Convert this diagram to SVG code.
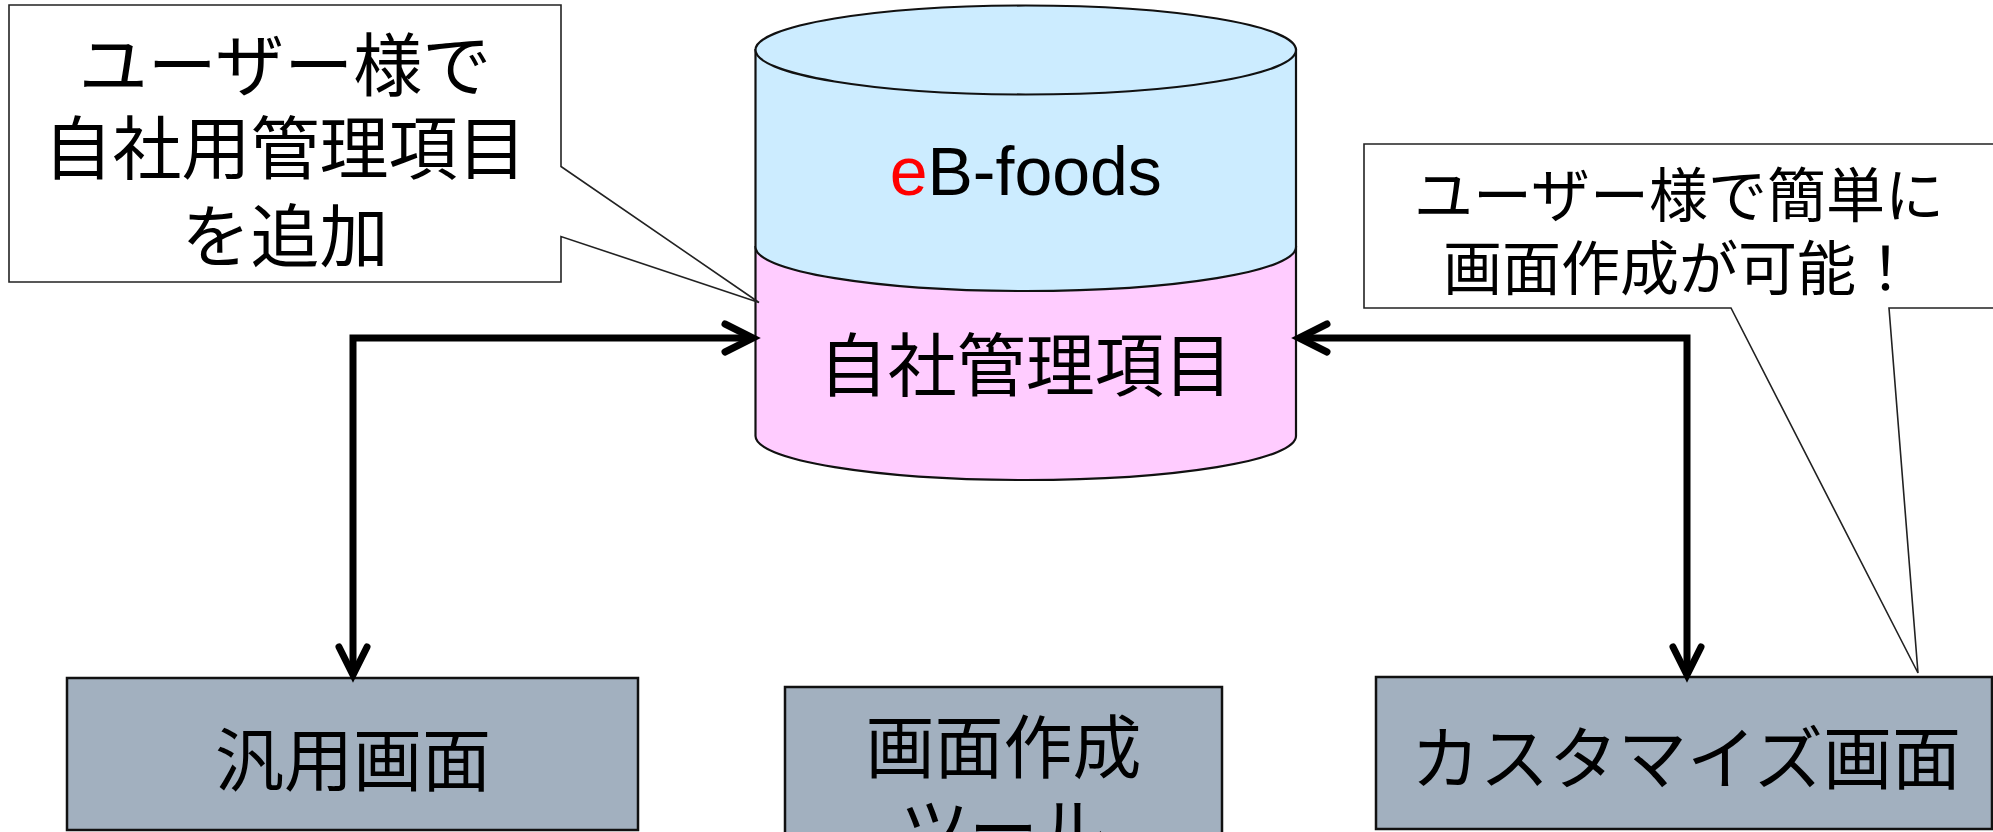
<svg xmlns="http://www.w3.org/2000/svg" width="1993" height="832" viewBox="0 0 1993 832">
<defs>
<style>
.jp{font-family:"Noto Sans CJK JP","Noto Sans CJK SC",sans-serif;fill:#000;text-anchor:middle}
.box{fill:#A2B0BF;stroke:#111;stroke-width:2.5}
.callout{fill:#fff;stroke:#222;stroke-width:1.6;stroke-linejoin:miter}
.cyl{stroke:#111;stroke-width:2.2}
.conn{fill:none;stroke:#000;stroke-width:7;stroke-linejoin:miter}
</style>
<marker id="chev" markerUnits="userSpaceOnUse" viewBox="-40 -20 50 40" refX="0" refY="0" markerWidth="50" markerHeight="40" orient="auto-start-reverse" overflow="visible">
<path d="M -28 -14 L 0 0 L -28 14" fill="none" stroke="#000" stroke-width="7" stroke-linecap="round" stroke-linejoin="miter"/>
</marker>
</defs>
<rect width="1993" height="832" fill="#fff"/>

<g id="db">
<path d="M 755.5 247 V 436 A 270.25 44 0 0 0 1296 436 V 247 Z" fill="#FFCCFF" class="cyl"/>
<path d="M 755.5 50 V 247 A 270.25 44 0 0 0 1296 247 V 50 Z" fill="#CCECFF" class="cyl"/>
<ellipse cx="1025.75" cy="50" rx="270.25" ry="44.5" fill="#CCECFF" class="cyl"/>
<text x="1025.75" y="195" font-family="Liberation Sans, Arial, sans-serif" font-size="68" text-anchor="middle" fill="#000"><tspan fill="#FF0000">e</tspan>B-foods</text>
<text class="jp" x="1025.75" y="391" font-size="69">自社管理項目</text>
</g>

<g id="generic">
<rect class="box" x="67" y="678" width="571" height="152"/>
<text class="jp" x="353" y="786" font-size="69">汎用画面</text>
</g>

<g id="tool">
<rect class="box" x="785" y="687" width="437" height="200"/>
<text class="jp" x="1003.5" y="773" font-size="69">画面作成</text>
<text class="jp" x="1003.5" y="855" font-size="69">ツール</text>
</g>

<g id="custom">
<rect class="box" x="1376" y="677" width="616" height="152"/>
<text class="jp" x="1686" y="784" font-size="69">カスタマイズ画面</text>
</g>

<g id="connectors">
<path class="conn" d="M 753 338 L 353 338 L 353 675" marker-start="url(#chev)" marker-end="url(#chev)"/>
<path class="conn" d="M 1299 338 L 1687 338 L 1687 675" marker-start="url(#chev)" marker-end="url(#chev)"/>
</g>

<g id="callout-left">
<path class="callout" d="M 9 5 H 561 V 166.5 L 759 302.5 L 561 236.5 V 282 H 9 Z"/>
<text class="jp" x="285" y="91" font-size="69">ユーザー様で</text>
<text class="jp" x="285" y="174" font-size="69">自社用管理項目</text>
<text class="jp" x="285" y="262" font-size="69">を追加</text>
</g>

<g id="callout-right">
<path class="callout" d="M 1364 144 H 2000 V 308 H 1889 L 1918 673 L 1731 308 H 1364 Z"/>
<text class="jp" x="1679" y="217" font-size="59">ユーザー様で簡単に</text>
<text class="jp" x="1679" y="290" font-size="59">画面作成が可能！</text>
</g>
</svg>
